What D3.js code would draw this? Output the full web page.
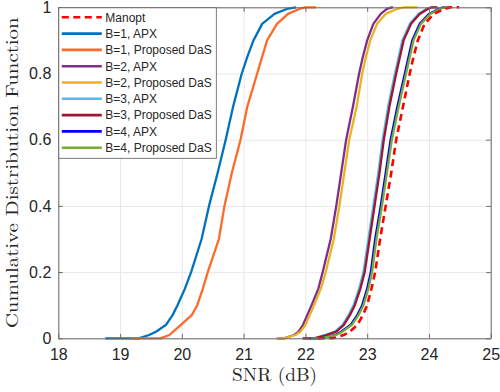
<!DOCTYPE html>
<html>
<head>
<meta charset="utf-8">
<script src="https://cdn.jsdelivr.net/npm/d3@7"></script>
<style>
  html, body { margin: 0; padding: 0; background: #fff; }
  svg { display: block; }
</style>
</head>
<body>
<svg id="chart" width="500" height="392"></svg>
<script>
// CDF levels shared by every curve (first two / last two repeat: flat tails)
const cdfLevels = [0, 0, 0.01, 0.02, 0.04, 0.07, 0.1, 0.15, 0.2, 0.3, 0.4, 0.5,
                   0.6, 0.7, 0.8, 0.85, 0.9, 0.95, 0.98, 0.995, 1, 1];

// SNR (dB) at each CDF level
const manopt  = [22.2, 22.45, 22.62, 22.72, 22.84, 22.93, 23.0, 23.07, 23.13, 23.21, 23.3, 23.39,
                 23.47, 23.58, 23.69, 23.75, 23.82, 23.93, 24.08, 24.25, 24.35, 24.49];
const b1Apx   = [18.76, 19.3, 19.47, 19.58, 19.74, 19.85, 19.93, 20.05, 20.15, 20.32, 20.44, 20.58,
                 20.71, 20.83, 20.97, 21.06, 21.16, 21.3, 21.5, 21.7, 21.85, 21.85];
const b1DaS   = [19.16, 19.65, 19.8, 19.86, 19.98, 20.16, 20.25, 20.34, 20.42, 20.6, 20.69, 20.81,
                 20.95, 21.06, 21.22, 21.3, 21.38, 21.54, 21.72, 21.9, 22.0, 22.17];
const b2Apx   = [21.55, 21.65, 21.82, 21.89, 21.96, 22.03, 22.1, 22.21, 22.28, 22.41, 22.5, 22.58,
                 22.66, 22.77, 22.87, 22.93, 23.0, 23.1, 23.22, 23.32, 23.4, 23.42];
const b2DaS   = [21.53, 21.65, 21.84, 21.92, 22.0, 22.07, 22.14, 22.25, 22.33, 22.46, 22.55, 22.63,
                 22.71, 22.83, 22.92, 22.98, 23.05, 23.16, 23.3, 23.48, 23.6, 23.82];
const b3Apx   = [21.95, 22.13, 22.32, 22.48, 22.6, 22.7, 22.78, 22.87, 22.94, 23.02, 23.1, 23.18,
                 23.25, 23.34, 23.45, 23.51, 23.57, 23.69, 23.83, 23.96, 24.03, 24.12];
const b3DaS   = [21.96, 22.15, 22.34, 22.5, 22.62, 22.72, 22.8, 22.89, 22.96, 23.04, 23.12, 23.2,
                 23.27, 23.36, 23.47, 23.53, 23.59, 23.71, 23.85, 23.98, 24.05, 24.14];
const b4Apx   = [22.08, 22.24, 22.48, 22.58, 22.73, 22.84, 22.92, 23.0, 23.06, 23.13, 23.22, 23.3,
                 23.38, 23.49, 23.61, 23.67, 23.73, 23.85, 24.0, 24.16, 24.23, 24.34];
const b4DaS   = [22.09, 22.25, 22.5, 22.6, 22.75, 22.86, 22.94, 23.02, 23.08, 23.15, 23.24, 23.32,
                 23.4, 23.51, 23.63, 23.69, 23.75, 23.87, 24.02, 24.18, 24.25, 24.36];

const seriesNames  = ["Manopt", "B=1, APX", "B=1, Proposed DaS", "B=2, APX", "B=2, Proposed DaS",
                      "B=3, APX", "B=3, Proposed DaS", "B=4, APX", "B=4, Proposed DaS"];
const seriesValues = [manopt, b1Apx, b1DaS, b2Apx, b2DaS, b3Apx, b3DaS, b4Apx, b4DaS];
const seriesColors = ["#ff0000", "#0072bd", "#ff6a2b", "#7e2f8e", "#edb120",
                      "#4dbeee", "#a2142f", "#0000ff", "#77ac30"];

const xTicks = [18, 19, 20, 21, 22, 23, 24, 25];
const yTicks = [0, 0.2, 0.4, 0.6, 0.8, 1];

//** SETUP *****************************************
const svg = d3.select("#chart");
const MARGIN = { LEFT: 58.3, RIGHT: 9.3, TOP: 7.3, BOTTOM: 53.7 };
const width = 500, height = 392;
const axisColor = "#6a6a6a";
const textColor = "#262626";

let xScale = d3.scaleLinear()
    .domain([18, 25])
    .range([MARGIN.LEFT, width - MARGIN.RIGHT]);

let yScale = d3.scaleLinear()
    .domain([0, 1])
    .range([height - MARGIN.BOTTOM, MARGIN.TOP]);

const x0 = xScale.range()[0], x1 = xScale.range()[1];
const y0 = yScale.range()[0], y1 = yScale.range()[1];

//** GRID *****************************************
svg.append("g")
    .attr("transform", "translate(0," + y0 + ")")
    .call(d3.axisBottom(xScale).tickValues(xTicks).tickSize(-(y0 - y1)).tickFormat(""))
    .call(g => g.select(".domain").remove())
    .selectAll(".tick line")
    .attr("stroke", "#e8e8e8");

svg.append("g")
    .attr("transform", "translate(" + x0 + ",0)")
    .call(d3.axisLeft(yScale).tickValues(yTicks).tickSize(-(x1 - x0)).tickFormat(""))
    .call(g => g.select(".domain").remove())
    .selectAll(".tick line")
    .attr("stroke", "#e8e8e8");

//** CURVES *****************************************
let line = d3.line()
    .x(d => xScale(d[0]))
    .y(d => yScale(d[1]));

let curves = svg.append("g").attr("class", "curves");
// draw in legend order, Manopt last so the dashes sit on top
let drawOrder = [1, 2, 3, 4, 5, 6, 7, 8, 0];
drawOrder.forEach(i => {
    let pts = seriesValues[i].map((v, k) => [v, cdfLevels[k]]);
    curves.append("path")
        .datum(pts)
        .attr("d", line)
        .attr("fill", "none")
        .attr("stroke", seriesColors[i])
        .attr("stroke-width", i === 0 ? 2.6 : 2.3)
        .attr("stroke-dasharray", i === 0 ? "7,4.5" : null)
        .attr("stroke-linejoin", "round");
});

//** AXES *****************************************
let tickFont = "'Liberation Sans', Arial, Helvetica, sans-serif";

let xAxis = svg.append("g")
    .attr("transform", "translate(0," + y0 + ")")
    .call(d3.axisBottom(xScale).tickValues(xTicks).tickSizeInner(-4.5).tickSizeOuter(0).tickPadding(10)
        .tickFormat(d3.format("d")));
xAxis.select(".domain").attr("stroke", axisColor);
xAxis.selectAll(".tick line").attr("stroke", axisColor);
xAxis.selectAll("text")
    .attr("fill", textColor)
    .style("font-family", tickFont)
    .style("font-size", "16px");

svg.append("g")
    .attr("transform", "translate(0," + y1 + ")")
    .call(d3.axisTop(xScale).tickValues(xTicks).tickSizeInner(-4.5).tickSizeOuter(0).tickFormat(""))
    .call(g => g.selectAll("line, path").attr("stroke", axisColor));

let yAxis = svg.append("g")
    .attr("transform", "translate(" + x0 + ",0)")
    .call(d3.axisLeft(yScale).tickValues(yTicks).tickSizeInner(-4.5).tickSizeOuter(0).tickPadding(7)
        .tickFormat(d => String(d)));
yAxis.select(".domain").attr("stroke", axisColor);
yAxis.selectAll(".tick line").attr("stroke", axisColor);
yAxis.selectAll("text")
    .attr("fill", textColor)
    .style("font-family", tickFont)
    .style("font-size", "16px");

svg.append("g")
    .attr("transform", "translate(" + x1 + ",0)")
    .call(d3.axisRight(yScale).tickValues(yTicks).tickSizeInner(-4.5).tickSizeOuter(0).tickFormat(""))
    .call(g => g.selectAll("line, path").attr("stroke", axisColor));

// axis labels (LaTeX style serif)
let labelFont = "'Latin Modern Roman', 'CMU Serif', 'Liberation Serif', serif";

svg.append("text")
    .attr("x", (x0 + x1) / 2)
    .attr("y", 381)
    .attr("text-anchor", "middle")
    .attr("fill", textColor)
    .style("font-family", labelFont)
    .style("font-size", "18px")
    .attr("textLength", 85)
    .attr("lengthAdjust", "spacingAndGlyphs")
    .text("SNR (dB)");

svg.append("text")
    .attr("transform", "translate(18," + ((y0 + y1) / 2) + ") rotate(-90)")
    .attr("text-anchor", "middle")
    .attr("fill", textColor)
    .style("font-family", labelFont)
    .style("font-size", "17.5px")
    .attr("textLength", 311)
    .attr("lengthAdjust", "spacingAndGlyphs")
    .text("Cumulative Distribution Function");

//** LEGEND *****************************************
let legendTop = y1;
let legendLeft = x0;
let rowHeight = 16.3;

let legend = svg.append("g").attr("class", "legend");
legend.append("rect")
    .attr("x", legendLeft + 0.5)
    .attr("y", legendTop + 0.5)
    .attr("width", 157.5)
    .attr("height", 150.5)
    .attr("fill", "#fff")
    .attr("stroke", "#5c5c5c")
    .attr("stroke-width", 0.8);

seriesNames.forEach((name, i) => {
    let cy = legendTop + 10 + i * rowHeight;
    legend.append("line")
        .attr("x1", legendLeft + 3.5)
        .attr("x2", legendLeft + 43.5)
        .attr("y1", cy)
        .attr("y2", cy)
        .attr("stroke", seriesColors[i])
        .attr("stroke-width", 2.6)
        .attr("stroke-dasharray", i === 0 ? "7,4.5" : null);
    legend.append("text")
        .attr("x", legendLeft + 47)
        .attr("y", cy + 4.3)
        .attr("fill", textColor)
        .style("font-family", tickFont)
        .style("font-size", "12px")
        .text(name);
});
</script>
</body>
</html>
